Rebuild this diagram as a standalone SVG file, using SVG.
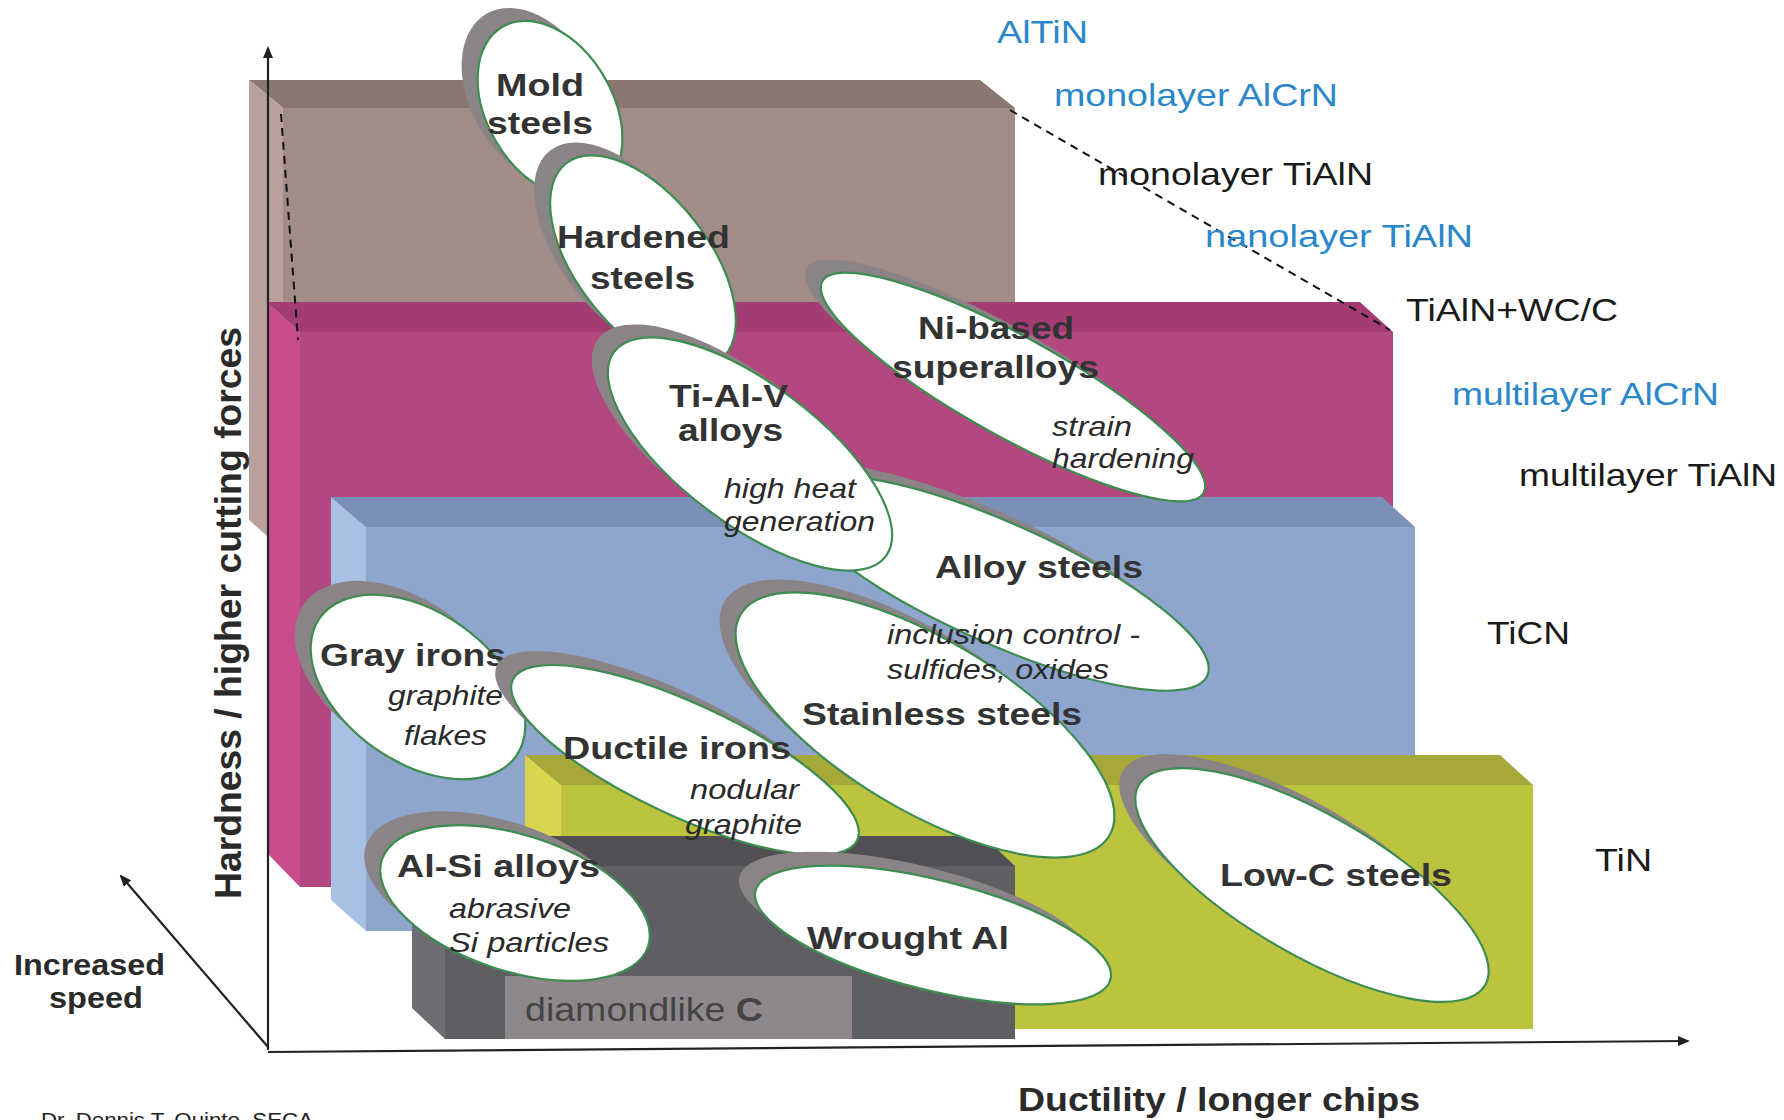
<svg xmlns="http://www.w3.org/2000/svg" width="1784" height="1120" viewBox="0 0 1784 1120">
<defs>
<style>
.sh{fill:#8b8487}
.el{fill:#ffffff;stroke:#3d8c50;stroke-width:2.2}
.t{font-family:"Liberation Sans",Arial,sans-serif;font-weight:bold;font-size:32px;fill:#333333}
.i{font-family:"Liberation Sans",Arial,sans-serif;font-style:italic;font-size:28px;fill:#2a2a2a}
.cb{font-family:"Liberation Sans",Arial,sans-serif;font-size:32px;fill:#2b87c9}
.ck{font-family:"Liberation Sans",Arial,sans-serif;font-size:32px;fill:#1a1a1a}
.ax{stroke:#222;stroke-width:2.2;fill:none}
.dash{stroke:#111;stroke-width:2;stroke-dasharray:8 6;fill:none}
.lab{font-family:"Liberation Sans",Arial,sans-serif;font-weight:bold;fill:#2a2a2a}
</style>
<marker id="arr" markerWidth="12" markerHeight="10" refX="10" refY="5" orient="auto" markerUnits="userSpaceOnUse">
<path d="M0,0 L12,5 L0,10 Z" fill="#222"/>
</marker>
<mask id="mStainless" maskUnits="userSpaceOnUse" x="0" y="0" width="1784" height="1120">
<rect x="0" y="0" width="1784" height="1120" fill="#fff"/>
<ellipse cx="0" cy="0" rx="216" ry="86" fill="#000" transform="translate(909,712) rotate(31)"/>
<ellipse cx="0" cy="0" rx="217" ry="87" fill="#000" transform="translate(925,725) rotate(31)"/>
</mask>
</defs>
<rect x="0" y="0" width="1784" height="1120" fill="#ffffff"/>

<g id="boxes">
<g id="box-brown">
<polygon points="249,80 980,80 1015,108 283,108" fill="#8b7772"/>
<polygon points="249,80 283,108 283,550 249,520" fill="#b9a19d"/>
<rect x="283" y="108" width="732" height="442" fill="#a28c88"/>
</g>
<g id="box-pink">
<polygon points="267,302 1360,302 1393,332 300,332" fill="#a43c74"/>
<polygon points="267,302 300,332 300,887 267,853" fill="#c94c8c"/>
<rect x="300" y="332" width="1093" height="555" fill="#b3477f"/>
</g>
<g id="box-blue">
<polygon points="331,497 1382,497 1415,527 366,527" fill="#7b90b6"/>
<polygon points="331,497 366,527 366,931 331,900" fill="#a9c0e5"/>
<rect x="366" y="527" width="1049" height="404" fill="#8ea6cd"/>
</g>
<g id="box-yellow">
<polygon points="525,755 1500,755 1533,785 561,785" fill="#a6a83a"/>
<polygon points="525,755 561,785 561,1000 525,970" fill="#d8d64c"/>
<rect x="561" y="785" width="972" height="244" fill="#bcc33f"/>
</g>
<g id="box-grey">
<polygon points="412,836 983,836 1015,866 445,866" fill="#505054"/>
<polygon points="412,836 445,866 445,1039 412,1008" fill="#6e6e72"/>
<rect x="445" y="866" width="570" height="173" fill="#5f5f63"/>
<rect x="505" y="976" width="347" height="63" fill="#8e878c"/>
<text x="525" y="1021" font-family="Liberation Sans, Arial, sans-serif" font-size="33" fill="#444" textLength="238" lengthAdjust="spacingAndGlyphs">diamondlike <tspan font-weight="bold">C</tspan></text>
</g>
</g>

<g id="connectors">
<line class="ax" x1="268" y1="1050" x2="268" y2="48" marker-end="url(#arr)"/>
<line class="ax" x1="268" y1="1052" x2="1688" y2="1041" marker-end="url(#arr)"/>
<line class="ax" x1="268" y1="1047" x2="121" y2="876" marker-end="url(#arr)"/>
<line class="dash" x1="1010" y1="110" x2="1390" y2="330"/>
<line class="dash" x1="281" y1="114" x2="298" y2="340"/>
</g>

<g id="node-mold-steels">
<ellipse class="sh" cx="0" cy="0" rx="95" ry="63" transform="translate(534,96) rotate(60)"/>
<ellipse class="el" cx="0" cy="0" rx="95" ry="63" transform="translate(550,109) rotate(60)"/>
<text class="t" x="496" y="96" textLength="88" lengthAdjust="spacingAndGlyphs">Mold</text>
<text class="t" x="487" y="134" textLength="106" lengthAdjust="spacingAndGlyphs">steels</text>
</g>

<g id="node-hardened-steels">
<ellipse class="sh" cx="0" cy="0" rx="125" ry="66" transform="translate(627,249) rotate(52)"/>
<ellipse class="el" cx="0" cy="0" rx="125" ry="66" transform="translate(643,262) rotate(52)"/>
<text class="t" x="557" y="248" textLength="173" lengthAdjust="spacingAndGlyphs">Hardened</text>
<text class="t" x="590" y="289" textLength="105" lengthAdjust="spacingAndGlyphs">steels</text>
</g>

<g id="node-ni-superalloys">
<ellipse class="sh" cx="0" cy="0" rx="218" ry="50" transform="translate(997,374) rotate(29)"/>
<ellipse class="el" cx="0" cy="0" rx="218" ry="50" transform="translate(1013,387) rotate(29)"/>
<text class="t" x="918" y="339" textLength="156" lengthAdjust="spacingAndGlyphs">Ni-based</text>
<text class="t" x="892" y="378" textLength="207" lengthAdjust="spacingAndGlyphs">superalloys</text>
<text class="i" x="1052" y="436" textLength="80" lengthAdjust="spacingAndGlyphs">strain</text>
<text class="i" x="1052" y="468" textLength="142" lengthAdjust="spacingAndGlyphs">hardening</text>
</g>

<g id="node-stainless-steels">
<ellipse class="sh" cx="0" cy="0" rx="215" ry="85" transform="translate(909,712) rotate(31)"/>
<ellipse class="el" cx="0" cy="0" rx="215" ry="85" transform="translate(925,725) rotate(31)"/>
<text class="t" x="802" y="725" textLength="280" lengthAdjust="spacingAndGlyphs">Stainless steels</text>
</g>

<g id="node-alloy-steels">
<g mask="url(#mStainless)">
<ellipse class="sh" cx="0" cy="0" rx="228" ry="60" transform="translate(983,570) rotate(24)"/>
<ellipse class="el" cx="0" cy="0" rx="228" ry="60" transform="translate(999,583) rotate(24)"/>
</g>
<text class="t" x="935" y="578" textLength="208" lengthAdjust="spacingAndGlyphs">Alloy steels</text>
<text class="i" x="887" y="644" textLength="253" lengthAdjust="spacingAndGlyphs">inclusion control -</text>
<text class="i" x="887" y="679" textLength="222" lengthAdjust="spacingAndGlyphs">sulfides, oxides</text>
</g>

<g id="node-ti-al-v-alloys">
<ellipse class="sh" cx="0" cy="0" rx="170" ry="70" transform="translate(734,441) rotate(37)"/>
<ellipse class="el" cx="0" cy="0" rx="170" ry="70" transform="translate(750,454) rotate(37)"/>
<text class="t" x="669" y="407" textLength="119" lengthAdjust="spacingAndGlyphs">Ti-Al-V</text>
<text class="t" x="678" y="441" textLength="105" lengthAdjust="spacingAndGlyphs">alloys</text>
<text class="i" x="724" y="498" textLength="132" lengthAdjust="spacingAndGlyphs">high heat</text>
<text class="i" x="724" y="531" textLength="151" lengthAdjust="spacingAndGlyphs">generation</text>
</g>

<g id="node-gray-irons">
<ellipse class="sh" cx="0" cy="0" rx="120" ry="75" transform="translate(402,673) rotate(35)"/>
<ellipse class="el" cx="0" cy="0" rx="120" ry="75" transform="translate(418,687) rotate(35)"/>
<text class="t" x="320" y="666" textLength="186" lengthAdjust="spacingAndGlyphs">Gray irons</text>
<text class="i" x="388" y="705" textLength="115" lengthAdjust="spacingAndGlyphs">graphite</text>
<text class="i" x="404" y="745" textLength="83" lengthAdjust="spacingAndGlyphs">flakes</text>
</g>

<g id="node-ductile-irons">
<ellipse class="sh" cx="0" cy="0" rx="190" ry="56" transform="translate(669,746) rotate(25)"/>
<ellipse class="el" cx="0" cy="0" rx="190" ry="56" transform="translate(685,760) rotate(25)"/>
<text class="t" x="563" y="759" textLength="228" lengthAdjust="spacingAndGlyphs">Ductile irons</text>
<text class="i" x="690" y="799" textLength="109" lengthAdjust="spacingAndGlyphs">nodular</text>
<text class="i" x="685" y="834" textLength="117" lengthAdjust="spacingAndGlyphs">graphite</text>
</g>

<g id="node-al-si-alloys">
<ellipse class="sh" cx="0" cy="0" rx="140" ry="68" transform="translate(499,889) rotate(18)"/>
<ellipse class="el" cx="0" cy="0" rx="140" ry="68" transform="translate(515,903) rotate(18)"/>
<text class="t" x="397" y="877" textLength="203" lengthAdjust="spacingAndGlyphs">Al-Si alloys</text>
<text class="i" x="449" y="918" textLength="122" lengthAdjust="spacingAndGlyphs">abrasive</text>
<text class="i" x="449" y="952" textLength="160" lengthAdjust="spacingAndGlyphs">Si particles</text>
</g>

<g id="node-wrought-al">
<ellipse class="sh" cx="0" cy="0" rx="183" ry="55" transform="translate(917,921) rotate(14)"/>
<ellipse class="el" cx="0" cy="0" rx="183" ry="55" transform="translate(933,935) rotate(14)"/>
<text class="t" x="807" y="949" textLength="202" lengthAdjust="spacingAndGlyphs">Wrought Al</text>
</g>

<g id="node-low-c-steels">
<ellipse class="sh" cx="0" cy="0" rx="200" ry="70" transform="translate(1296,871) rotate(30)"/>
<ellipse class="el" cx="0" cy="0" rx="200" ry="70" transform="translate(1312,885) rotate(30)"/>
<text class="t" x="1220" y="886" textLength="232" lengthAdjust="spacingAndGlyphs">Low-C steels</text>
</g>

<g id="coatings">
<text class="cb" x="997" y="43" textLength="91" lengthAdjust="spacingAndGlyphs">AlTiN</text>
<text class="cb" x="1054" y="106" textLength="284" lengthAdjust="spacingAndGlyphs">monolayer AlCrN</text>
<text class="ck" x="1098" y="185" textLength="275" lengthAdjust="spacingAndGlyphs">monolayer TiAlN</text>
<text class="cb" x="1205" y="247" textLength="268" lengthAdjust="spacingAndGlyphs">nanolayer TiAlN</text>
<text class="ck" x="1406" y="321" textLength="212" lengthAdjust="spacingAndGlyphs">TiAlN+WC/C</text>
<text class="cb" x="1452" y="405" textLength="267" lengthAdjust="spacingAndGlyphs">multilayer AlCrN</text>
<text class="ck" x="1519" y="486" textLength="258" lengthAdjust="spacingAndGlyphs">multilayer TiAlN</text>
<text class="ck" x="1487" y="644" textLength="83" lengthAdjust="spacingAndGlyphs">TiCN</text>
<text class="ck" x="1595" y="871" textLength="57" lengthAdjust="spacingAndGlyphs">TiN</text>
</g>

<g id="axis-labels">
<text class="lab" font-size="37" transform="translate(241,899) rotate(-90)" x="0" y="0" textLength="572" lengthAdjust="spacingAndGlyphs">Hardness / higher cutting forces</text>
<text class="lab" font-size="34" x="1018" y="1111" textLength="402" lengthAdjust="spacingAndGlyphs">Ductility / longer chips</text>
<text class="lab" font-size="29" x="14" y="975" textLength="151" lengthAdjust="spacingAndGlyphs">Increased</text>
<text class="lab" font-size="29" x="49" y="1008" textLength="94" lengthAdjust="spacingAndGlyphs">speed</text>
<text x="41" y="1127" font-family="Liberation Sans, Arial, sans-serif" font-size="20" fill="#222" textLength="272" lengthAdjust="spacingAndGlyphs">Dr. Dennis T. Quinto, SECA</text>
</g>
</svg>
